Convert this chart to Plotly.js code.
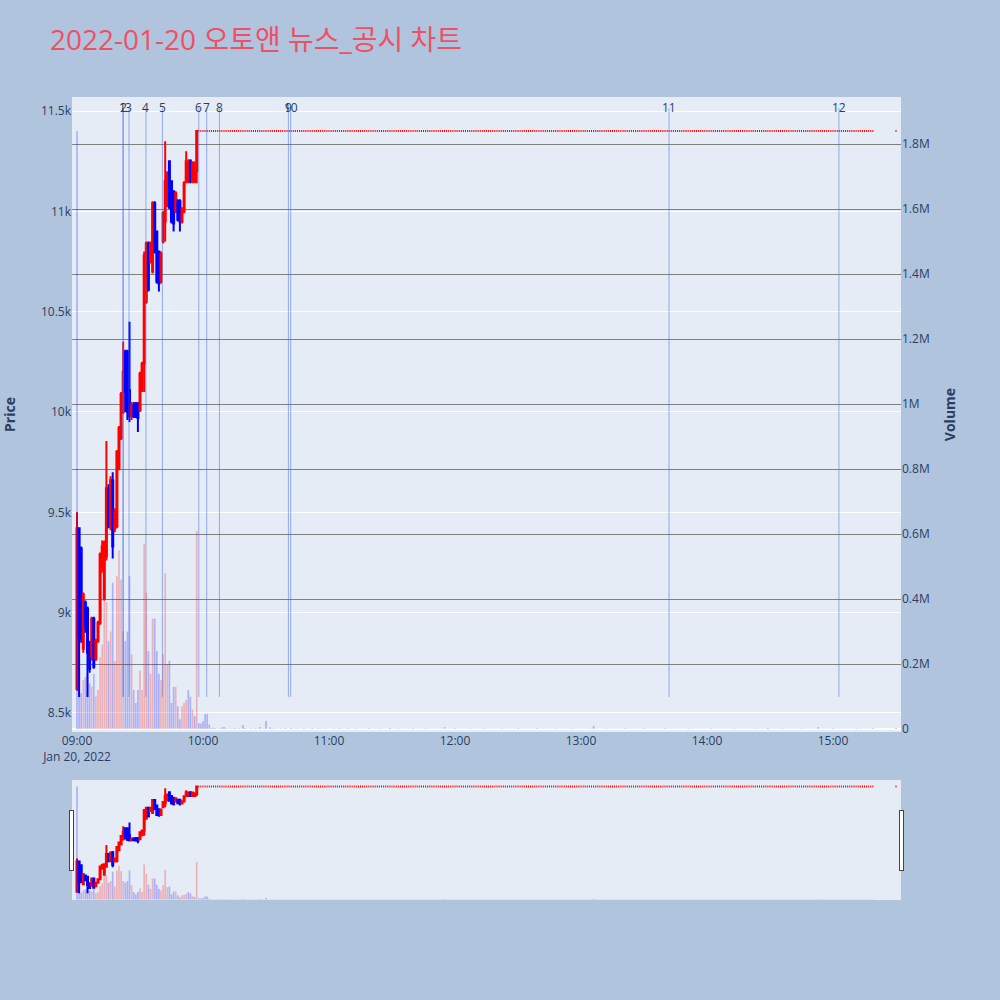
<!DOCTYPE html>
<html>
<head>
<meta charset="utf-8">
<script src="https://cdn.plot.ly/plotly-3.0.1.min.js"></script>
<style>html,body{margin:0;padding:0;background:#B0C4DE;}#chart{width:1000px;height:1000px;}</style>
</head>
<body>
<div id="chart"></div>
<script>
// ---- data: 1-minute candles, 2022-01-20 (09:00 .. 09:57) ----
const earlyOpen  = [8620,9420,9320,8820,9050,9020,8850,8780,8970,8770,8860,8950,9230,9070,9280,9620,9430,9660,9420,9430,9720,9870,10000,10300,10300,10110,9980,10030,10040,10040,10010,10110,10240,10550,10840,10750,10700,11040,10900,10800,10650,10850,10950,11030,11250,11150,11100,11000,11050,11050,10950,11000,11150,11150,11250,11150,11150,11200];
const earlyHigh  = [9500,9420,9330,9100,9060,9030,8860,8980,8980,8870,8960,9300,9360,9360,9855,9640,9680,9700,9520,9810,9930,10100,10350,10310,10310,10450,10050,10050,10050,10050,10200,10250,10800,10850,10850,10850,11050,11050,10900,10800,10800,11000,11350,11200,11250,11150,11100,11100,11060,11060,11020,11150,11300,11260,11260,11250,11250,11400];
const earlyLow   = [8610,8580,8850,8800,8900,8580,8700,8760,8720,8760,8850,8940,9200,9060,9260,9420,9410,9270,9400,9420,9710,9860,9990,10000,9960,9950,9960,9970,9970,9900,10000,10100,10100,10540,10600,10740,10690,10790,10640,10600,10640,10840,10850,11020,11010,10940,10900,10990,10950,10900,10940,10990,11140,11140,11140,11140,11140,11140];
const earlyClose = [9420,8880,8870,9090,8930,8800,8720,8970,8730,8860,8950,9290,9330,9350,9620,9430,9660,9330,9500,9800,9920,10090,10200,10100,10000,9980,10030,9980,9975,9970,10190,10240,10780,10840,10610,10840,11040,10800,10650,10640,10790,10990,11150,11190,11020,10950,10940,11090,10960,10950,11010,11140,11250,11240,11150,11240,11200,11400];
const earlyVolK  = [1840,300,110,150,160,170,140,130,170,100,120,220,260,440,390,270,300,450,210,470,550,460,300,270,300,470,230,120,80,120,180,120,570,420,240,170,340,340,240,170,150,230,480,200,210,80,130,130,70,30,70,80,90,120,100,60,40,610];

// ---- locked at upper limit 11,400 from 09:58 to 15:19, volume per minute (thousand shares) ----
const limitPrice = 11400;
const lockedVolK = [
 18,17,25,46,46,14,3,4,2,1,2,5,6,2,1,2,1,3,1,2,
 1,12,2,1,1,2,1,2,1,6,1,2,25,1,5,1,2,1,1,2,
 1,2,1,1,3,1,1,2,1,1,2,1,1,1,3,1,1,2,1,1,
 2,1,1,1,2,1,1,3,1,1,1,2,1,1,1,2,1,1,1,1,
 1,2,1,1,1,1,2,1,1,1,1,3,1,1,1,2,1,1,1,1,
 1,1,2,1,1,1,1,1,2,1,1,1,1,1,1,1,1,6,1,1,
 1,1,2,1,1,1,1,1,1,2,1,1,1,1,1,1,2,1,1,1,
 1,1,1,1,2,1,1,1,1,1,1,1,2,1,1,1,1,1,1,1,
 1,2,1,1,1,1,1,1,1,1,2,1,1,1,1,1,1,1,2,1,
 1,1,1,1,1,1,2,1,10,1,1,1,1,1,2,1,1,1,1,1,
 1,1,1,2,1,1,1,1,1,1,1,1,2,1,1,1,1,1,1,1,
 1,1,2,1,1,1,1,1,1,1,1,1,1,2,1,1,1,1,1,1,
 1,1,1,1,2,1,1,1,1,1,1,1,1,1,1,2,1,1,1,1,
 1,1,1,1,1,2,1,1,1,1,1,4,1,1,1,1,1,1,2,1,
 1,1,1,1,1,1,1,2,1,1,1,1,1,1,1,6,1,1,1,1,
 1,1,2,1,1,1,1,1,1,1,1,1,1,2,1,1,1,1,1,1,
 1,2];
// closing auction 15:30
const closeTime = '2022-01-20 15:30';
const closePrice = 11400;
const closeVolK = 3;

// ---- news / disclosure events ----
const newsLabels = ['1','2','3','4','5','6','7','8','9','10','11','12'];
const newsTimes = ['09:21:50','09:22:05','09:24:45','09:32:50','09:40:40','09:58:00','10:01:45','10:07:50','10:40:40','10:41:45','13:41:55','15:02:50'];

// ---- build series ----
function pad(n){return (n<10?'0':'')+n;}
function minuteStr(m){return '2022-01-20 '+pad(9+Math.floor(m/60))+':'+pad(m%60);}
const X=[],O=[],H=[],L=[],C=[],V=[];
for(let i=0;i<earlyOpen.length;i++){
  X.push(minuteStr(i));O.push(earlyOpen[i]);H.push(earlyHigh[i]);L.push(earlyLow[i]);C.push(earlyClose[i]);V.push(earlyVolK[i]*1000);
}
for(let j=0;j<lockedVolK.length;j++){
  X.push(minuteStr(earlyOpen.length+j));O.push(limitPrice);H.push(limitPrice);L.push(limitPrice);C.push(limitPrice);V.push(lockedVolK[j]*1000);
}
X.push(closeTime);O.push(closePrice);H.push(closePrice);L.push(closePrice);C.push(closePrice);V.push(closeVolK*1000);

const volColors = C.map((c,i)=> (i>0 && c>C[i-1]) ? 'rgba(255,0,0,0.25)' : 'rgba(0,0,255,0.25)');

const minLow = Math.min.apply(null,L);
const maxHigh = Math.max.apply(null,H);

const traces = [
  {type:'candlestick', x:X, open:O, high:H, low:L, close:C, yaxis:'y', name:'Price',
   increasing:{line:{color:'red',width:2},fillcolor:'red'},
   decreasing:{line:{color:'blue',width:2},fillcolor:'blue'}, showlegend:false},
  {type:'bar', x:X, y:V, yaxis:'y2', name:'Volume', marker:{color:volColors}, showlegend:false}
];

const shapes = newsTimes.map(t=>({type:'line', xref:'x', yref:'y', x0:'2022-01-20 '+t, x1:'2022-01-20 '+t,
  y0:minLow, y1:maxHigh*1.01, line:{color:'royalblue',width:1}, opacity:0.5}));
const annotations = newsTimes.map((t,i)=>({x:'2022-01-20 '+t, xref:'x', y:1, yref:'paper', text:newsLabels[i],
  showarrow:false, font:{size:12,color:'#2a3f5f'}}));

const xr = ['2022-01-20 08:57:37','2022-01-20 15:32:23'];
const layout = {
  width:1000, height:1000,
  paper_bgcolor:'#B0C4DE', plot_bgcolor:'#E5ECF6',
  font:{family:'"Open Sans", "Noto Sans CJK KR", sans-serif', color:'#2a3f5f', size:12},
  margin:{l:72, r:99, t:97, b:100},
  title:{text:'2022-01-20 오토앤 뉴스_공시 차트', x:0.05, xanchor:'left', y:0.96, yanchor:'middle',
         font:{size:28, color:'#EE5064', family:'"Open Sans", "Noto Sans CJK KR", sans-serif'}},
  showlegend:false,
  xaxis:{type:'date', range:xr, showgrid:false, dtick:3600000, tick0:'2022-01-20 09:00',
         tickfont:{size:12,color:'#2a3f5f'},
         rangeslider:{visible:true, range:xr, thickness:0.15, bgcolor:'#E5ECF6'}},
  yaxis:{range:[8405,11570], gridcolor:'white', zeroline:false, tickfont:{size:12},
         title:{text:'Price', standoff:22, font:{size:14, weight:'bold'}}},
  yaxis2:{overlaying:'y', side:'right', range:[-9200,1945000], showgrid:true, gridcolor:'grey', gridwidth:1,
          zeroline:true, zerolinecolor:'white', zerolinewidth:2, dtick:200000,
          title:{text:'Volume', standoff:16, font:{size:14, weight:'bold'}}},
  shapes:shapes, annotations:annotations
};
Plotly.newPlot('chart', traces, layout, {displayModeBar:false});
</script>
</body>
</html>
